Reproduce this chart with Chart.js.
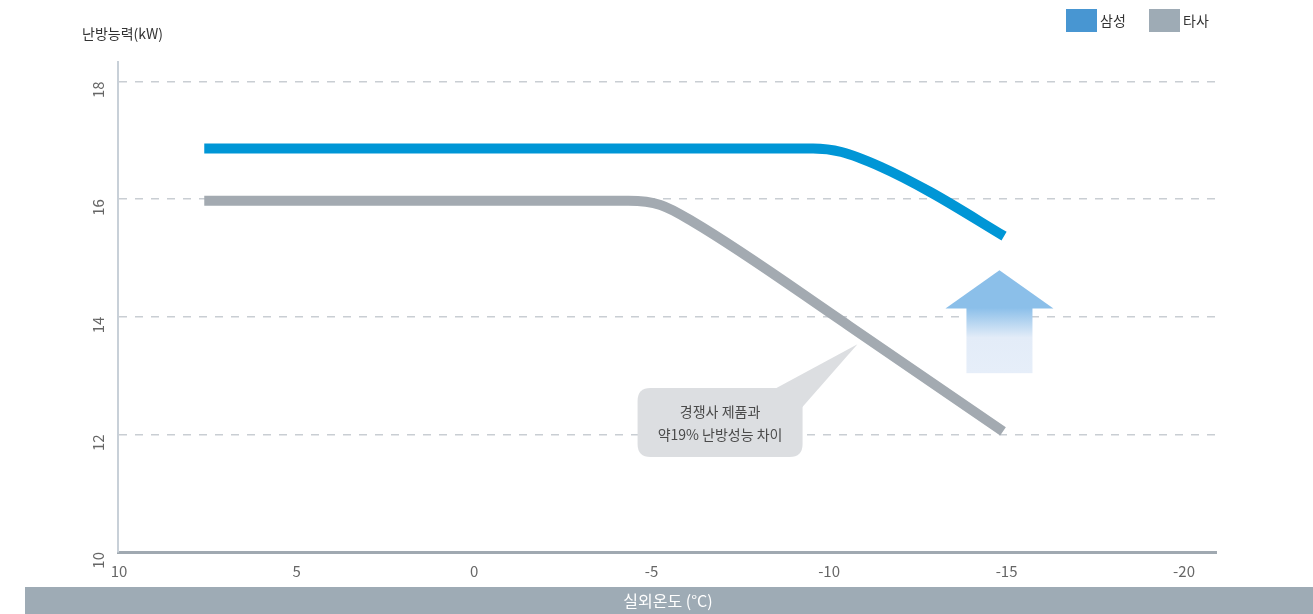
<!DOCTYPE html>
<html>
<head>
<meta charset="utf-8">
<script src="https://cdn.jsdelivr.net/npm/chart.js@4"></script>
<style>
  body { margin: 0; background: #fff; }
  #wrap { width: 1313px; height: 614px; position: relative; }
</style>
</head>
<body>
<div id="wrap"><canvas id="mycanvas"></canvas></div>
<script>
var FONT = "'Noto Sans CJK KR', 'Noto Sans', sans-serif";

// 데이터
var xTicks = [10, 5, 0, -5, -10, -15, -20];
var yTicks = [10, 12, 14, 16, 18];
var seriesNames = ['삼성', '타사'];
var samsungX = [7.6, -9.55, -10.35, -11.45, -12.85, -14.93];
var samsungY = [16.86, 16.86, 16.8, 16.55, 16.12, 15.37];
var otherX = [7.6, -4.35, -5.25, -6.15, -10.55, -14.9];
var otherY = [15.97, 15.97, 15.9, 15.62, 13.85, 12.05];
var yTitle = '난방능력(kW)';
var xTitle = '실외온도 (°C)';
var noteLines = ['경쟁사 제품과', '약19% 난방성능 차이'];

function toPoints(xs, ys) {
	var pts = [];
	for (var i in xs) pts.push({x: xs[i], y: ys[i]});
	return pts;
}

function roundRect(ctx, x, y, w, h, r) {
	ctx.beginPath();
	ctx.moveTo(x + r, y);
	ctx.lineTo(x + w - r, y);
	ctx.quadraticCurveTo(x + w, y, x + w, y + r);
	ctx.lineTo(x + w, y + h - r);
	ctx.quadraticCurveTo(x + w, y + h, x + w - r, y + h);
	ctx.lineTo(x + r, y + h);
	ctx.quadraticCurveTo(x, y + h, x, y + h - r);
	ctx.lineTo(x, y + r);
	ctx.quadraticCurveTo(x, y, x + r, y);
	ctx.closePath();
}

// 화살표, 말풍선, 범례, 축 제목
var decor = {
	id: 'decor',
	beforeDatasetsDraw: function(chart) {
		var ctx = chart.ctx, xs = chart.scales.x, ys = chart.scales.y;
		ctx.save();
		// 화살표
		var cx = xs.getPixelForValue(-14.8);
		var tip = ys.getPixelForValue(14.79);
		var base = ys.getPixelForValue(14.14);
		var bottom = ys.getPixelForValue(13.04);
		var g = ctx.createLinearGradient(0, base, 0, bottom);
		g.addColorStop(0, '#8dc0ea');
		g.addColorStop(0.45, '#e3ecf8');
		g.addColorStop(1, '#e6eef9');
		ctx.fillStyle = g;
		ctx.fillRect(cx - 33, base - 1, 66, bottom - base + 1);
		ctx.fillStyle = '#8bbfe9';
		ctx.beginPath();
		ctx.moveTo(cx, tip);
		ctx.lineTo(cx + 54, base);
		ctx.lineTo(cx - 54, base);
		ctx.closePath();
		ctx.fill();

		// 말풍선
		var bx = xs.getPixelForValue(-6.93), by = ys.getPixelForValue(12.2);
		var w = 165, h = 69;
		var left = bx - w / 2, top = by - h / 2;
		var tx = xs.getPixelForValue(-10.8), ty = ys.getPixelForValue(13.53);
		ctx.fillStyle = '#dcdee1';
		ctx.beginPath();
		ctx.moveTo(left + w - 28, top + 1);
		ctx.lineTo(tx, ty);
		ctx.lineTo(left + w - 1, top + 20);
		ctx.closePath();
		ctx.fill();
		roundRect(ctx, left, top, w, h, 13);
		ctx.fill();
		ctx.fillStyle = '#4a4a4a';
		ctx.font = '14px ' + FONT;
		ctx.textAlign = 'center';
		ctx.textBaseline = 'middle';
		ctx.fillText(noteLines[0], bx, by - 11);
		ctx.fillText(noteLines[1], bx, by + 12);
		ctx.restore();
	},
	afterDraw: function(chart) {
		var ctx = chart.ctx;
		ctx.save();
		// 하단 띠
		ctx.fillStyle = '#9eabb5';
		ctx.fillRect(25, 587, chart.width - 25, 27);
		ctx.fillStyle = '#ffffff';
		ctx.font = '16px ' + FONT;
		ctx.textAlign = 'center';
		ctx.textBaseline = 'middle';
		ctx.fillText(xTitle, 668, 601);
		// y축 제목
		ctx.fillStyle = '#333';
		ctx.font = '14px ' + FONT;
		ctx.textAlign = 'left';
		ctx.fillText(yTitle, 82, 34);
		// 범례
		var legendColors = ['#4896d2', '#9eabb5'];
		var lx = [1066, 1149];
		for (var i = 0; i < seriesNames.length; i++) {
			ctx.fillStyle = legendColors[i];
			ctx.fillRect(lx[i], 9, 31, 23);
			ctx.fillStyle = '#333';
			ctx.fillText(seriesNames[i], lx[i] + 34, 21);
		}
		ctx.restore();
	}
};

var chartdata = {
	datasets: [
		{
			label: seriesNames[0],
			data: toPoints(samsungX, samsungY),
			borderColor: '#0096d6',
			borderWidth: 10,
			borderCapStyle: 'butt',
			pointRadius: 0,
			cubicInterpolationMode: 'monotone',
			fill: false
		},
		{
			label: seriesNames[1],
			data: toPoints(otherX, otherY),
			borderColor: '#a3aab1',
			borderWidth: 10,
			borderCapStyle: 'butt',
			pointRadius: 0,
			cubicInterpolationMode: 'monotone',
			fill: false
		}
	]
};

var ctx = document.getElementById('mycanvas');
var lineGraph = new Chart(ctx, {
	type: 'line',
	data: chartdata,
	plugins: [decor],
	options: {
		responsive: true,
		maintainAspectRatio: false,
		animation: false,
		layout: { padding: { top: 62, right: 97, bottom: 0, left: 0 } },
		plugins: {
			legend: { display: false },
			tooltip: { enabled: false }
		},
		scales: {
			x: {
				type: 'linear',
				reverse: true,
				min: -20.9,
				max: 10.03,
				afterBuildTicks: function(scale) {
					scale.ticks = xTicks.map(function(v) { return {value: v}; });
				},
				afterFit: function(scale) { scale.height = 62; },
				grid: { drawOnChartArea: false, drawTicks: false },
				border: { display: true, color: '#a0a9b1', width: 3 },
				ticks: {
					padding: 10,
					maxRotation: 0,
					color: '#666',
					font: { family: FONT, size: 15 }
				}
			},
			y: {
				min: 10,
				max: 18.33,
				afterBuildTicks: function(scale) {
					scale.ticks = yTicks.map(function(v) { return {value: v}; });
				},
				afterFit: function(scale) { scale.width = 118; },
				grid: {
					drawTicks: false,
					lineWidth: 1.5,
					color: function(c) { return c.tick && c.tick.value === 10 ? 'rgba(0,0,0,0)' : '#c9ced3'; }
				},
				border: { display: true, color: '#c8d0d8', width: 2, dash: [8, 8] },
				ticks: {
					minRotation: 90,
					maxRotation: 90,
					padding: 20,
					color: '#666',
					font: { family: FONT, size: 15 }
				}
			}
		}
	}
});
</script>
</body>
</html>
